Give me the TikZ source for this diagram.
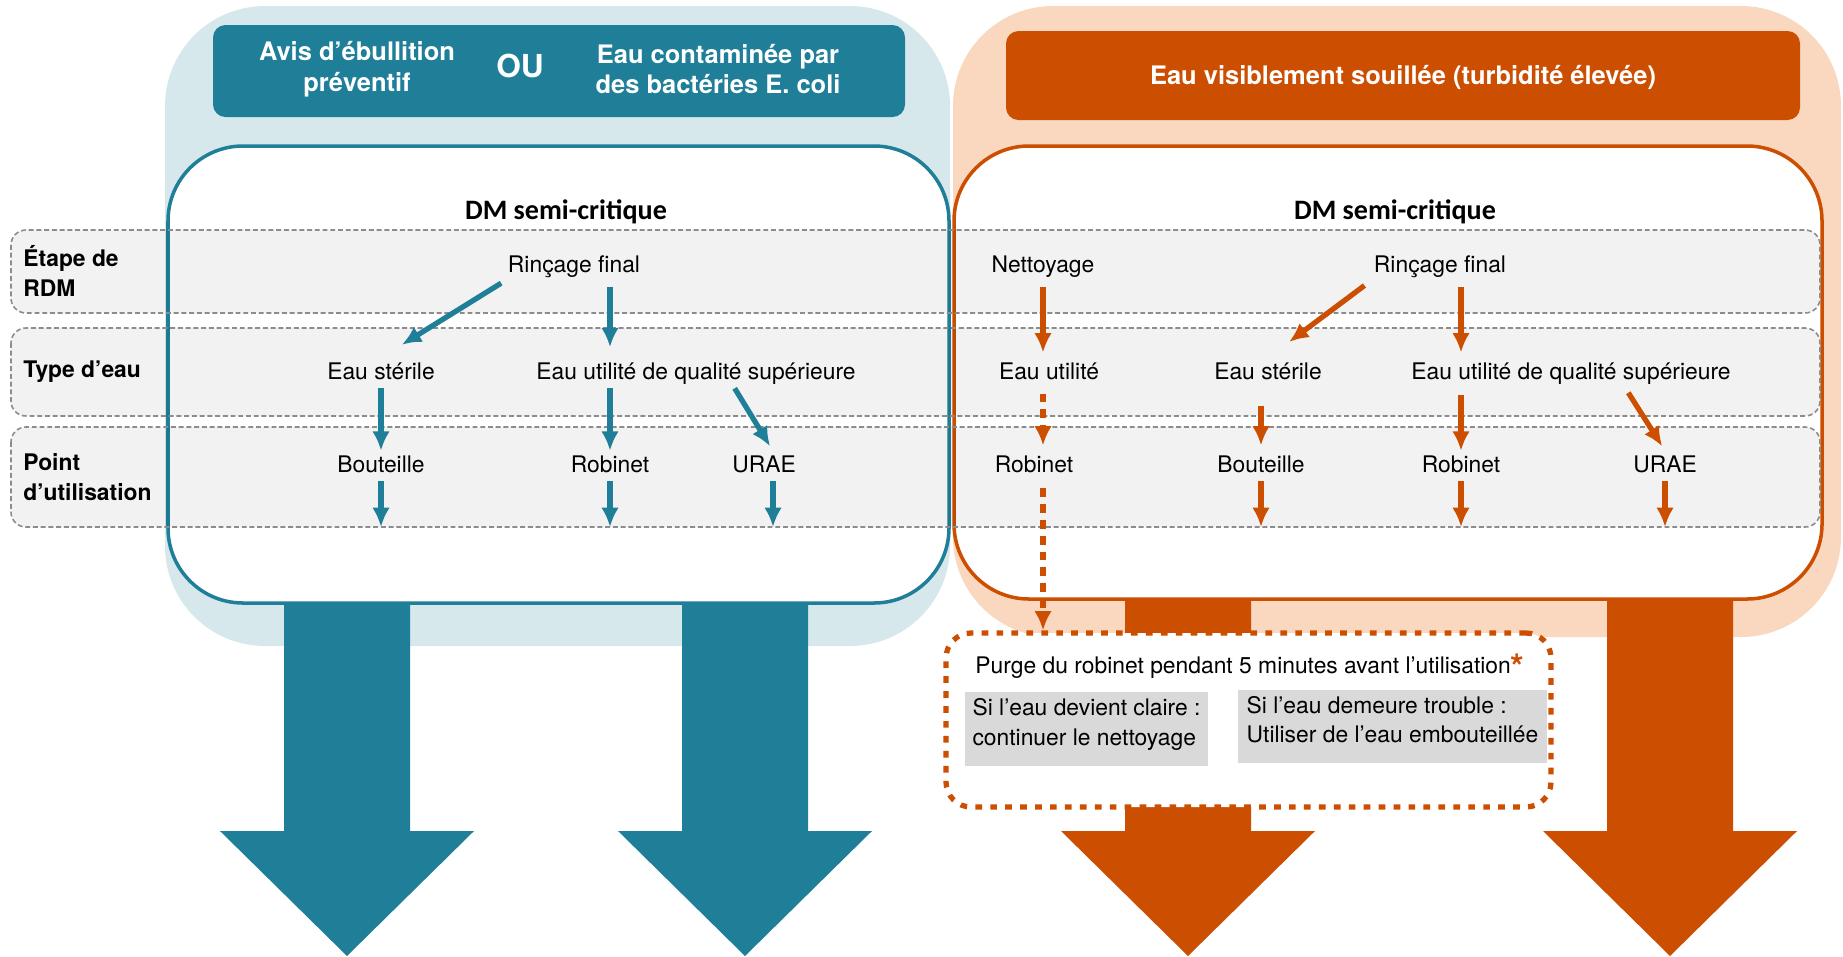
\documentclass[tikz,border=0pt]{standalone}
\usepackage{fontspec}
\setmainfont{TeX Gyre Heros}
\newfontfamily\dmfont{Carlito}
\usetikzlibrary{arrows.meta}

\definecolor{tealD}{HTML}{1F7F99}
\definecolor{tealL}{HTML}{D7E8EC}
\definecolor{orD}{HTML}{CC4E00}
\definecolor{orL}{HTML}{F9D8BF}
\definecolor{rowline}{HTML}{8C8C8C}
\definecolor{grayB}{HTML}{D9D9D9}

\begin{document}
\begin{tikzpicture}[
  x=0.2mm, y=-0.2mm,
  every node/.style={font=\fontsize{13}{17}\selectfont, align=center},
  lbl/.style={text height=10pt, text depth=3pt, inner sep=2pt},
  rowlbl/.style={font=\fontsize{13}{17}\selectfont\bfseries, align=left, anchor=west, inner sep=0pt},
  title/.style={font=\dmfont\fontsize{16}{19}\selectfont\bfseries},
  head/.style={font=\fontsize{14.5}{17.5}\selectfont\bfseries, text=white},
  row/.style={draw=rowline, line width=0.9pt, dash pattern=on 2.8pt off 1.6pt, fill=black, fill opacity=0.05, rounded corners=3mm},
  tarr/.style={tealD, line width=3pt, -{Latex[length=11pt,width=10pt]}},
  oarr/.style={orD, line width=3pt, -{Latex[length=11pt,width=10pt]}},
  odash/.style={oarr, dash pattern=on 5pt off 4pt},
  dotbox/.style={draw=orD, line width=3pt, dash pattern=on 3.8pt off 4.7pt, fill=white, rounded corners=5mm},
  gbox/.style={fill=grayB, align=left, inner sep=2pt}
]
\useasboundingbox (0,0) rectangle (1843,956);

% backgrounds and headers
\fill[tealL, rounded corners=20mm] (165,6) rectangle (950,646);
\fill[orL, rounded corners=20mm] (953,6) rectangle (1841,637);
\fill[tealD, rounded corners=2.5mm] (213,25) rectangle (905,117);
\fill[orD, rounded corners=2.5mm] (1006,31) rectangle (1800,120);

\node[head] (avis) at (357,69) {Avis d’ébullition\\préventif};
\node[head, font=\fontsize{18}{20}\selectfont\bfseries] (ou) at (520,66) {OU};
\node[head] (ecoli) at (718,69) {Eau contaminée par\\des bactéries E. coli};
\node[head] (souil) at (1403,77) {Eau visiblement souillée (turbidité élevée)};

% big arrows
\foreach \cx/\col in {347/tealD, 745/tealD, 1188/orD, 1670/orD}
  \fill[\col] (\cx-63,600) -- (\cx+63,600) -- (\cx+63,831) -- (\cx+127,831)
    -- (\cx,956) -- (\cx-127,831) -- (\cx-63,831) -- cycle;

% boxes and rows
\draw[tealD, line width=2pt, fill=white, rounded corners=15mm] (168,146) rectangle (949,603);
\draw[orD, line width=2pt, fill=white, rounded corners=15mm] (954,146) rectangle (1822,599);
\foreach \ya/\yb in {230/313, 328/416, 427/527}
  \draw[row] (11,\ya) rectangle (1820,\yb);
\coordinate (pbot) at (0,527);

\node[rowlbl] (etape) at (23,271) {Étape de\\RDM};
\node[rowlbl] (type) at (23,372) {Type d’eau};
\node[rowlbl] (point) at (23,477) {Point\\d’utilisation};

\node[title] (dmL) at (566,212) {DM semi-critique};
\node[title] (dmR) at (1395,212) {DM semi-critique};

% left side
\node[lbl] (rinL) at (574,266) {Rinçage final};
\node[lbl] (sterL) at (381,373) {Eau stérile};
\node[lbl] (utilL) at (696,373) {Eau utilité de qualité supérieure};
\node[lbl] (bouL) at (381,466) {Bouteille};
\node[lbl] (robL) at (610,466) {Robinet};
\node[lbl] (uraeL) at (764,466) {URAE};

\draw[tarr, shorten <=2pt, shorten >=14pt] (rinL.south west) -- (sterL.north);
\draw[tarr, shorten <=3pt, shorten >=6pt] (rinL.south -| robL) -- (utilL.north -| robL);
\draw[tarr] (sterL) -- (bouL);
\draw[tarr] (utilL.south -| robL) -- (robL);
\draw[tarr, shorten >=3pt] ([xshift=22pt]utilL.south) -- ([xshift=5pt]uraeL.north);
\draw[tarr] (bouL) -- (bouL |- pbot);
\draw[tarr] (robL) -- (robL |- pbot);
\draw[tarr] (uraeL.south -| 773,0) -- (773,527);

% right side
\node[lbl] (nettR) at (1043,266) {Nettoyage};
\node[lbl] (rinR) at (1440,266) {Rinçage final};
\node[lbl] (utR) at (1049,373) {Eau utilité};
\node[lbl] (sterR) at (1268,373) {Eau stérile};
\node[lbl] (supR) at (1571,373) {Eau utilité de qualité supérieure};
\node[lbl] (robR1) at (1034,466) {Robinet};
\node[lbl] (bouR) at (1261,466) {Bouteille};
\node[lbl] (robR2) at (1461,466) {Robinet};
\node[lbl] (uraeR) at (1665,466) {URAE};

\draw[oarr, shorten <=3pt, shorten >=3pt] (nettR) -- (nettR |- utR.north);
\draw[oarr, shorten <=4pt, shorten >=15pt] (rinR.south west) -- (sterR.north);
\draw[oarr, shorten <=3pt, shorten >=3pt] (rinR.south -| robR2) -- (supR.north -| robR2);
\draw[odash, shorten <=3pt, shorten >=3pt] (nettR |- utR.south) -- (nettR |- robR1.north);
\draw[oarr, shorten <=10pt, shorten >=3pt] (sterR.south -| bouR) -- (bouR);
\draw[oarr, shorten <=4pt] (supR.south -| robR2) -- (robR2);
\draw[oarr, shorten <=3pt, shorten >=3pt] ([xshift=31pt]supR.south) -- (uraeR.north);
\draw[oarr] (bouR) -- (bouR |- pbot);
\draw[oarr] (robR2) -- (robR2 |- pbot);
\draw[oarr] (uraeR) -- (uraeR |- pbot);

% purge box
\node[dotbox, minimum width=121mm, minimum height=34.8mm] (purge) at (1248.5,720) {};
\node[lbl] (purgetxt) at (1250,667) {Purge du robinet pendant 5 minutes avant l’utilisation\textcolor{orD}{\raisebox{-3.5pt}{\fontsize{20}{20}\selectfont\bfseries *}}};
\node[gbox, minimum width=48.6mm, minimum height=14.8mm] (clair) at (1086.5,729) {Si l’eau devient claire :\\continuer le nettoyage\\[-9pt]};
\node[gbox, minimum width=61.8mm, minimum height=14.6mm] (trouble) at (1392.5,726.5) {Si l’eau demeure trouble :\\Utiliser de l’eau embouteillée\\[-9pt]};
\draw[odash, shorten <=4pt] (nettR |- robR1.south) -- (nettR |- purge.north);

\end{tikzpicture}
\end{document}
